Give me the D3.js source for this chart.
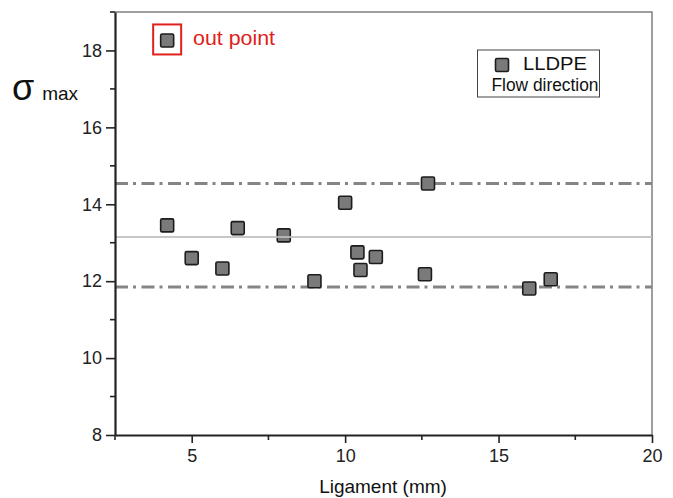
<!DOCTYPE html>
<html>
<head>
<meta charset="utf-8">
<script src="https://cdn.jsdelivr.net/npm/d3@7"></script>
<style>
  html, body { margin: 0; padding: 0; background: #fff; }
  text { font-family: "Liberation Sans", Arial, sans-serif; }
</style>
</head>
<body>
<div id="chart"></div>
<script>
// ── data ──────────────────────────────────────────────────────────
const ligament = [4.2, 5.0, 6.0, 6.5, 8.0, 9.0, 10.0, 10.4, 10.5, 11.0, 12.6, 12.7, 16.0, 16.7];
const sigmaMax = [13.45, 12.6, 12.33, 13.38, 13.19, 12.0, 14.04, 12.75, 12.29, 12.63, 12.18, 14.54, 11.81, 12.05];
const outPoint = { x: 4.2, y: 18.26 };
const meanLine = 13.15;
const bandLines = [14.54, 11.85];
const xTicks = [5, 10, 15, 20];
const yTicks = [8, 10, 12, 14, 16, 18];
const xMinor = [2.5, 7.5, 12.5, 17.5];
const yMinor = [9, 11, 13, 15, 17, 19];

// ── svg setup ─────────────────────────────────────────────────────
const width = 673, height = 498;
const margin = { top: 12, right: 21, bottom: 63, left: 115 };

const svg = d3.select('#chart').append('svg')
  .attr('width', width)
  .attr('height', height)
  .attr('viewBox', [0, 0, width, height]);

const x = d3.scaleLinear().domain([2.5, 20]).range([margin.left, width - margin.right]);
const y = d3.scaleLinear().domain([8, 19]).range([height - margin.bottom, margin.top]);

const frame = svg.append('g').attr('id', 'frame');
const lines = svg.append('g').attr('id', 'lines');
const points = svg.append('g').attr('id', 'points');
const axes = svg.append('g').attr('id', 'axes');
const notes = svg.append('g').attr('id', 'notes');

// top and right border
frame.append('path')
  .attr('d', `M${x(2.5)},${y(19)}H${x(20)}V${y(8)}`)
  .attr('fill', 'none')
  .attr('stroke', '#7f7f7f')
  .attr('stroke-width', 1.5);

// ── reference lines ──────────────────────────────────────────────
lines.selectAll('line.band')
  .data(bandLines)
  .join('line')
  .attr('class', 'band')
  .attr('x1', x(2.5)).attr('x2', x(20))
  .attr('y1', d => y(d)).attr('y2', d => y(d))
  .attr('stroke', '#858585')
  .attr('stroke-width', 3)
  .attr('stroke-dasharray', '13,5,3,5.5');

// ── points ────────────────────────────────────────────────────────
const s = 13;
points.selectAll('rect')
  .data(d3.zip(ligament, sigmaMax))
  .join('rect')
  .attr('x', d => x(d[0]) - s / 2)
  .attr('y', d => y(d[1]) - s / 2)
  .attr('width', s).attr('height', s)
  .attr('rx', 1.5)
  .attr('fill', '#7a7a7a')
  .attr('stroke', '#1c1c1c')
  .attr('stroke-width', 1.6);

points.append('rect')
  .attr('x', x(outPoint.x) - s / 2)
  .attr('y', y(outPoint.y) - s / 2)
  .attr('width', s).attr('height', s)
  .attr('rx', 1.5)
  .attr('fill', '#7a7a7a')
  .attr('stroke', '#1c1c1c')
  .attr('stroke-width', 1.6);

// mean line drawn over the markers
points.append('line')
  .attr('x1', x(2.5)).attr('x2', x(20))
  .attr('y1', y(meanLine)).attr('y2', y(meanLine))
  .attr('stroke', '#bdbdbd')
  .attr('stroke-opacity', 0.85)
  .attr('stroke-width', 2);

// ── axes ──────────────────────────────────────────────────────────
const xAxis = axes.append('g')
  .attr('transform', `translate(0,${y(8)})`)
  .call(d3.axisBottom(x).tickValues(xTicks).tickSize(8).tickSizeOuter(0).tickPadding(6).tickFormat(d3.format('d')));

const yAxis = axes.append('g')
  .attr('transform', `translate(${x(2.5)},0)`)
  .call(d3.axisLeft(y).tickValues(yTicks).tickSize(9).tickSizeOuter(0).tickPadding(4).tickFormat(d3.format('d')));

[xAxis, yAxis].forEach(g => {
  g.select('.domain').attr('stroke', '#222').attr('stroke-width', 2.2);
  g.selectAll('.tick line').attr('stroke', '#222').attr('stroke-width', 1.6);
  g.selectAll('.tick text')
    .attr('fill', '#222')
    .style('font-size', '18px')
    .style('font-family', '"Liberation Sans", Arial, sans-serif');
});

// minor ticks
axes.append('g').selectAll('line')
  .data(xMinor)
  .join('line')
  .attr('x1', d => x(d)).attr('x2', d => x(d))
  .attr('y1', y(8)).attr('y2', y(8) + 5)
  .attr('stroke', '#222').attr('stroke-width', 1.6);

axes.append('g').selectAll('line')
  .data(yMinor)
  .join('line')
  .attr('x1', x(2.5) - 5).attr('x2', x(2.5))
  .attr('y1', d => y(d)).attr('y2', d => y(d))
  .attr('stroke', '#222').attr('stroke-width', 1.6);

// axis titles
axes.append('text')
  .attr('x', 383).attr('y', 493)
  .attr('text-anchor', 'middle')
  .attr('fill', '#111')
  .style('font-size', '19px')
  .text('Ligament (mm)');

const yTitle = axes.append('text')
  .attr('x', 12).attr('y', 100)
  .attr('fill', '#111');
yTitle.append('tspan').style('font-size', '36px').text('σ');
yTitle.append('tspan').attr('dx', 8).style('font-size', '19px').text('max');

// ── out point note ───────────────────────────────────────────────
notes.append('rect')
  .attr('x', x(outPoint.x) - 14)
  .attr('y', y(outPoint.y) - 16)
  .attr('width', 28).attr('height', 30)
  .attr('fill', 'none')
  .attr('stroke', '#e0201b')
  .attr('stroke-width', 2);

notes.append('text')
  .attr('x', 193).attr('y', 45)
  .attr('fill', '#e0201b')
  .style('font-size', '20px')
  .attr('textLength', 82)
  .attr('lengthAdjust', 'spacingAndGlyphs')
  .text('out point');

// ── legend ────────────────────────────────────────────────────────
const legend = notes.append('g').attr('id', 'legend');
legend.append('rect')
  .attr('x', 477.5).attr('y', 50)
  .attr('width', 122).attr('height', 47)
  .attr('fill', '#fff')
  .attr('stroke', '#444')
  .attr('stroke-width', 1);

legend.append('rect')
  .attr('x', 502 - 6.5).attr('y', 65 - 6.5)
  .attr('width', 13).attr('height', 13)
  .attr('rx', 1.5)
  .attr('fill', '#7a7a7a')
  .attr('stroke', '#1c1c1c')
  .attr('stroke-width', 1.6);

legend.append('text')
  .attr('x', 523).attr('y', 70)
  .attr('fill', '#111')
  .style('font-size', '18px')
  .attr('textLength', 64)
  .attr('lengthAdjust', 'spacingAndGlyphs')
  .text('LLDPE');

legend.append('text')
  .attr('x', 491.5).attr('y', 91)
  .attr('fill', '#111')
  .style('font-size', '18px')
  .attr('textLength', 107)
  .attr('lengthAdjust', 'spacingAndGlyphs')
  .text('Flow direction');
</script>
</body>
</html>
